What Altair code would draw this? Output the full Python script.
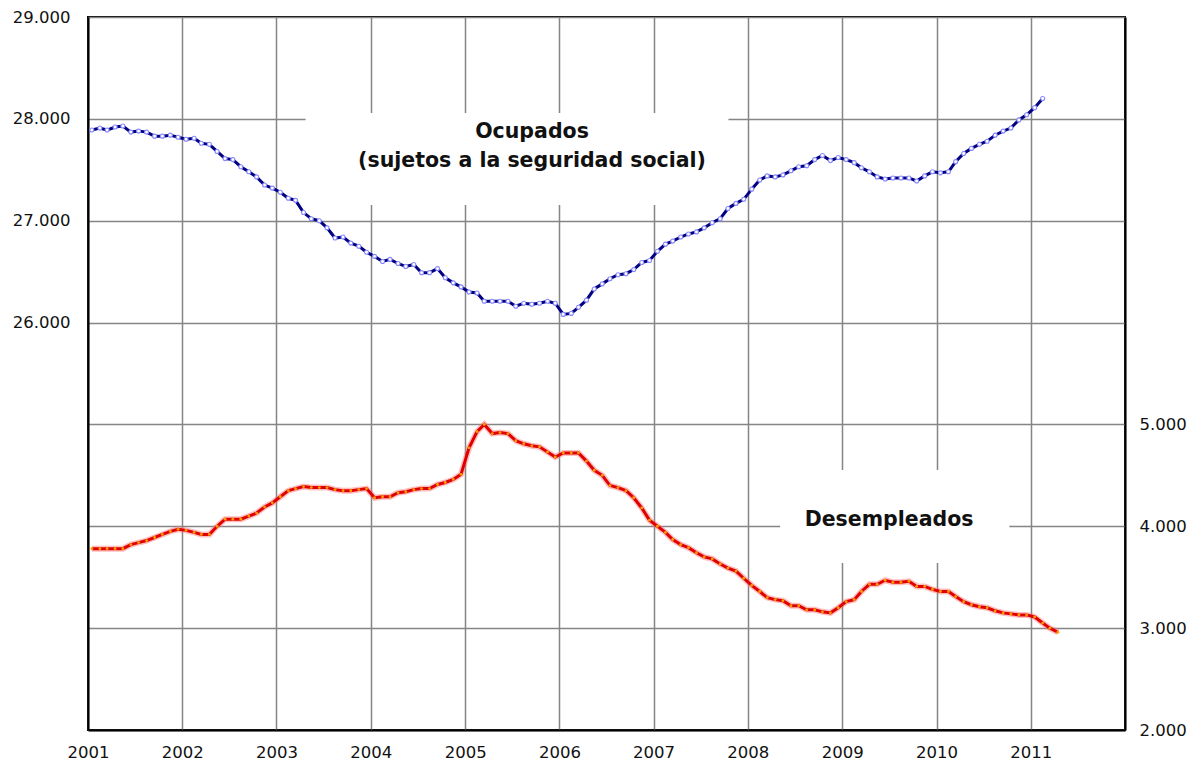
import altair as alt
import pandas as pd

# ---- data (thousands of persons, monthly) ----
ocupados = [
    27890, 27910, 27890, 27920, 27930, 27870, 27880, 27870, 27830, 27830,
    27840, 27820, 27800, 27810, 27760, 27750, 27680, 27610, 27600, 27530,
    27480, 27430, 27350, 27320, 27280, 27220, 27200, 27080, 27020, 27000,
    26930, 26830, 26840, 26780, 26750, 26690, 26650, 26600, 26620, 26580,
    26550, 26570, 26490, 26490, 26530, 26440, 26390, 26350, 26300, 26290,
    26210, 26210, 26210, 26210, 26160, 26190, 26180, 26190, 26210, 26190,
    26080, 26090, 26150, 26220, 26330, 26380, 26430, 26470, 26480, 26520,
    26590, 26610, 26700, 26770, 26800, 26840, 26870, 26890, 26930, 26980,
    27020, 27120, 27170, 27210, 27310, 27400, 27440, 27430, 27450, 27490,
    27530, 27540, 27600, 27640, 27590, 27620, 27600, 27570, 27520, 27480,
    27430, 27410, 27420, 27420, 27420, 27390, 27440, 27480, 27470, 27480,
    27580, 27660, 27710, 27750, 27780, 27840, 27880, 27910, 27990, 28040,
    28110, 28200,
]
desempleados = [
    3780, 3780, 3780, 3780, 3780, 3820, 3840, 3860, 3890, 3920,
    3950, 3970, 3960, 3940, 3920, 3920, 4000, 4070, 4070, 4070,
    4100, 4130, 4190, 4230, 4290, 4350, 4370, 4390, 4380, 4380,
    4380, 4360, 4350, 4350, 4360, 4370, 4280, 4290, 4290, 4330,
    4340, 4360, 4370, 4370, 4410, 4430, 4460, 4510, 4770, 4930,
    5000, 4910, 4920, 4910, 4840, 4810, 4790, 4780, 4730, 4680,
    4720, 4720, 4720, 4640, 4550, 4500, 4400, 4380, 4350, 4280,
    4180, 4060, 4000, 3940, 3870, 3820, 3790, 3740, 3700, 3680,
    3630, 3590, 3560, 3490, 3420, 3360, 3300, 3280, 3270, 3220,
    3220, 3180, 3180, 3160, 3150, 3200, 3260, 3280, 3360, 3430,
    3430, 3470, 3450, 3450, 3460, 3410, 3410, 3380, 3360, 3360,
    3310, 3260, 3230, 3210, 3200, 3170, 3150, 3140, 3130, 3130,
    3110, 3050, 3000, 2960,
]
start_month = "2001-01-01"
years = list(range(2001, 2013))
left_ticks = list(range(22000, 29001, 1000))
right_ticks = [2000, 3000, 4000, 5000]
label_oc = ["Ocupados", "(sujetos a la seguridad social)"]
label_de = ["Desempleados"]

# ---- tables ----
oc_dates = pd.date_range(start_month, periods=len(ocupados), freq="MS") + pd.Timedelta(days=15)
de_dates = pd.date_range(start_month, periods=len(desempleados), freq="MS") + pd.Timedelta(days=15)
df_oc = pd.DataFrame({"fecha": oc_dates, "valor": ocupados})
df_de = pd.DataFrame({"fecha": de_dates, "valor": desempleados})

df_box_oc = pd.DataFrame({"x1": [pd.Timestamp("2003-04-24")], "x2": [pd.Timestamp("2007-10-18")],
                          "y1": [28057], "y2": [27154]})
df_txt_oc = pd.DataFrame({"fecha": [pd.Timestamp("2005-09-17")] * 2, "valor": [27812, 27527],
                          "texto": label_oc})
df_box_de = pd.DataFrame({"x1": [pd.Timestamp("2008-05-05")], "x2": [pd.Timestamp("2010-10-10")],
                          "y1": [4553], "y2": [3640]})
df_txt_de = pd.DataFrame({"fecha": [pd.Timestamp("2009-07-01")], "valor": [4006], "texto": label_de})

FONT = "DejaVu Sans"

x_scale = alt.Scale(domain=[alt.DateTime(year=2001, month=1, date=1),
                            alt.DateTime(year=2012, month=1, date=1)], nice=False)
x_axis = alt.Axis(
    values=[alt.DateTime(year=y, month=1, date=1) for y in years],
    labelExpr="year(datum.value) == 2012 ? '' : timeFormat(datum.value, '%Y')",
    title=None, grid=True, ticks=False, tickSize=0, labelPadding=14,
    labelFlush=False, labelOverlap=False,
)
yl_scale = alt.Scale(domain=[22000, 29000], nice=False, zero=False)
yl_axis = alt.Axis(
    orient="left", values=left_ticks, title=None, grid=True, ticks=False, tickSize=0,
    labelPadding=18, labelBaseline="middle",
    labelExpr="datum.value >= 26000 ? replace(format(datum.value, ','), ',', '.') : ''",
)
yr_scale = alt.Scale(domain=[2000, 9000], nice=False, zero=False)
yr_axis = alt.Axis(
    orient="right", values=right_ticks, title=None, grid=False, ticks=False, tickSize=0,
    labelPadding=14, labelBaseline="middle",
    labelExpr="replace(format(datum.value, ','), ',', '.')",
)

def X(field):
    return alt.X(field, type="temporal", scale=x_scale, axis=x_axis)

# ---- left (Ocupados) layer ----
box_oc = alt.Chart(df_box_oc).mark_rect(color="white").encode(
    x=X("x1"), x2="x2", y=alt.Y("y1:Q", scale=yl_scale, axis=yl_axis), y2="y2")
txt_oc = alt.Chart(df_txt_oc).mark_text(font=FONT, fontWeight="bold", fontSize=20.5,
                                        baseline="alphabetic", align="center", color="#111").encode(
    x=X("fecha"), y=alt.Y("valor:Q", scale=yl_scale, axis=yl_axis), text="texto:N")
line_oc = alt.Chart(df_oc).mark_line(color="#000080", strokeWidth=3).encode(
    x=X("fecha"), y=alt.Y("valor:Q", scale=yl_scale, axis=yl_axis))
pts_oc = alt.Chart(df_oc).mark_point(shape="circle", size=16, filled=True, fill="white",
                                     stroke="#8a8aff", strokeWidth=1.1, opacity=1).encode(
    x=X("fecha"), y=alt.Y("valor:Q", scale=yl_scale, axis=yl_axis))
left = alt.layer(box_oc, txt_oc, line_oc, pts_oc)

# ---- right (Desempleados) layer ----
box_de = alt.Chart(df_box_de).mark_rect(color="white").encode(
    x=X("x1"), x2="x2", y=alt.Y("y1:Q", scale=yr_scale, axis=yr_axis), y2="y2")
txt_de = alt.Chart(df_txt_de).mark_text(font=FONT, fontWeight="bold", fontSize=20.5,
                                        baseline="alphabetic", align="center", color="#111").encode(
    x=X("fecha"), y=alt.Y("valor:Q", scale=yr_scale, axis=yr_axis), text="texto:N")
halo_de = alt.Chart(df_de).mark_line(color="#ff7070", strokeWidth=6, opacity=0.45).encode(
    x=X("fecha"), y=alt.Y("valor:Q", scale=yr_scale, axis=yr_axis))
line_de = alt.Chart(df_de).mark_line(color="#e00000", strokeWidth=3).encode(
    x=X("fecha"), y=alt.Y("valor:Q", scale=yr_scale, axis=yr_axis))
pts_de = alt.Chart(df_de).mark_point(shape="circle", size=8, filled=True, fill="#ffa000",
                                     strokeWidth=0, opacity=1).encode(
    x=X("fecha"), y=alt.Y("valor:Q", scale=yr_scale, axis=yr_axis))
right = alt.layer(box_de, txt_de, halo_de, line_de, pts_de)

chart = alt.layer(left, right).resolve_scale(y="independent").properties(
    width=1037, height=713,
    autosize=alt.AutoSizeParams(type="none"),
    padding={"left": 80, "top": 9, "right": 64, "bottom": 36},
).configure_view(
    stroke="black", strokeWidth=2,
).configure_axis(
    labelFont=FONT, labelFontSize=16.5, labelColor="#111",
    gridColor="#858585", gridWidth=1.5,
    domainColor="black", domainWidth=2,
)

chart.save("out.html", embed_options={"renderer": "svg", "actions": False})
